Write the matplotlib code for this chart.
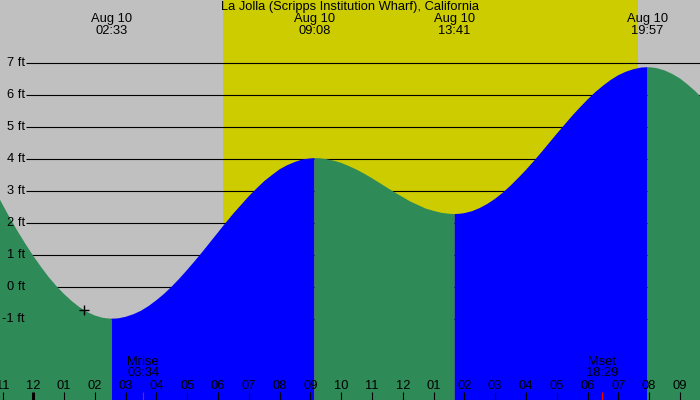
import numpy as np
import matplotlib
matplotlib.use('Agg')
import matplotlib.pyplot as plt

plt.rcParams['font.family'] = ['Liberation Sans', 'DejaVu Sans']

title = 'La Jolla (Scripps Institution Wharf), California'

# tide height (ft), time in hours after midnight Aug 10
times = [-1.5, -1.25, -1.0, -0.75, -0.5, -0.25, 0.0, 0.25, 0.5, 0.75, 1.0,
         1.25, 1.5, 1.75, 2.0, 2.25, 2.4, 2.55, 2.75, 3.0, 3.25, 3.5, 3.75,
         4.0, 4.25, 4.5, 4.75, 5.0, 5.25, 5.5, 5.75, 6.0, 6.25, 6.5, 6.75,
         7.0, 7.25, 7.5, 7.75, 8.0, 8.25, 8.5, 8.75, 9.0, 9.133, 9.25, 9.5,
         9.75, 10.0, 10.25, 10.5, 10.75, 11.0, 11.25, 11.5, 11.75, 12.0,
         12.25, 12.5, 12.75, 13.0, 13.25, 13.5, 13.683, 13.85, 14.0, 14.25,
         14.5, 14.75, 15.0, 15.25, 15.5, 15.75, 16.0, 16.25, 16.5, 16.75,
         17.0, 17.25, 17.5, 17.75, 18.0, 18.25, 18.5, 18.75, 19.0, 19.25,
         19.5, 19.75, 19.95, 20.1, 20.25, 20.5, 20.75, 21.0, 21.25, 21.5,
         21.75, 22.0]
heights = [3.50, 3.03, 2.58, 2.14, 1.73, 1.34, 0.97, 0.63, 0.31, 0.03, -0.22,
           -0.44, -0.63, -0.78, -0.89, -0.96, -0.98, -0.99, -0.98, -0.93,
           -0.85, -0.74, -0.59, -0.41, -0.21, 0.02, 0.27, 0.54, 0.82, 1.11,
           1.41, 1.71, 2.01, 2.30, 2.57, 2.84, 3.08, 3.31, 3.50, 3.68, 3.81,
           3.91, 3.99, 4.02, 4.03, 4.027, 4.00, 3.95, 3.88, 3.78, 3.67, 3.54,
           3.40, 3.25, 3.10, 2.95, 2.81, 2.67, 2.56, 2.45, 2.38, 2.32, 2.29,
           2.28, 2.29, 2.31, 2.37, 2.47, 2.60, 2.76, 2.95, 3.17, 3.41, 3.66,
           3.93, 4.21, 4.50, 4.79, 5.07, 5.35, 5.61, 5.86, 6.09, 6.29, 6.47,
           6.62, 6.73, 6.81, 6.86, 6.87, 6.86, 6.84, 6.77, 6.66, 6.52, 6.33,
           6.12, 5.87, 5.60]

# high / low tide events
event_times = [2.55, 9.133, 13.683, 19.95]
event_labels = ['02:33', '09:08', '13:41', '19:57']
event_date = 'Aug 10'

sunrise, sunset = 6.16, 19.63
moon_times = [3.567, 18.483]
moon_names = ['Mrise', 'Mset']
moon_labels = ['03:34', '18:29']

marker_t, marker_h = 1.646, -0.72

levels = [-1, 0, 1, 2, 3, 4, 5, 6, 7]
hours = list(range(-1, 22))
hour_labels = ['11', '12', '01', '02', '03', '04', '05', '06', '07', '08',
               '09', '10', '11', '12', '01', '02', '03', '04', '05', '06',
               '07', '08', '09']

fig = plt.figure(figsize=(7, 4), dpi=100)
ax = fig.add_axes([0, 0, 1, 1])
ax.set_xlim(-1.082, 21.653)
ax.set_ylim(-3.53, 8.97)
ax.axis('off')

gray = '#c0c0c0'
yellow = '#cccc00'
ax.axvspan(-5, sunrise, color=gray, lw=0, zorder=0)
ax.axvspan(sunrise, sunset, color=yellow, lw=0, zorder=0)
ax.axvspan(sunset, 30, color=gray, lw=0, zorder=0)

ax.hlines(levels, -0.235, 30, color='black', lw=0.8, zorder=1)
for lv in levels:
    ax.text(25 / 700, lv, '%d ft' % lv, transform=ax.get_yaxis_transform(),
            ha='right', va='center', fontsize=9.3, zorder=5)

# fill rising water blue and falling water green
t = np.array(times)
h = np.array(heights)
d = np.sign(np.diff(h))
cuts = [0] + [i for i in range(1, len(d)) if d[i] != d[i - 1]] + [len(h) - 1]
for a, b in zip(cuts[:-1], cuts[1:]):
    col = '#0000ff' if h[b] > h[a] else '#2e8b57'
    ax.fill_between(t[a:b + 1], h[a:b + 1], -10, color=col, lw=0, zorder=2)

ax.plot(marker_t, marker_h, marker='+', color='black', ms=6.5, mew=1, zorder=4)

top = ax.get_xaxis_transform()
ax.text(0.5, 1 - 7 / 400, title, transform=ax.transAxes, ha='center',
        va='center', fontsize=9.3)
for et, lab in zip(event_times, event_labels):
    ax.text(et, 1 - 19 / 400, event_date, transform=top, ha='center',
            va='center', fontsize=9.3)
    ax.text(et, 1 - 31 / 400, lab, transform=top, ha='center',
            va='center', fontsize=9.3)

for hr, lab in zip(hours, hour_labels):
    ax.text(hr, 1 - 386 / 400, lab, transform=top, ha='center', va='center',
            fontsize=9.3, zorder=5)
    ax.vlines(hr, 0, 8 / 400, transform=top, color='black',
              lw=2.2 if hr == 0 else 0.8, zorder=5)

for mt, name, lab in zip(moon_times, moon_names, moon_labels):
    ax.text(mt, 1 - 362 / 400, name, transform=top, ha='center',
            va='center', fontsize=9.3, zorder=5)
    ax.text(mt, 1 - 373 / 400, lab, transform=top, ha='center',
            va='center', fontsize=9.3, zorder=5)
    ax.vlines(mt, 0, 8 / 400, transform=top, color='red', lw=0.8, zorder=5)

fig.savefig('out.png', dpi=100)
